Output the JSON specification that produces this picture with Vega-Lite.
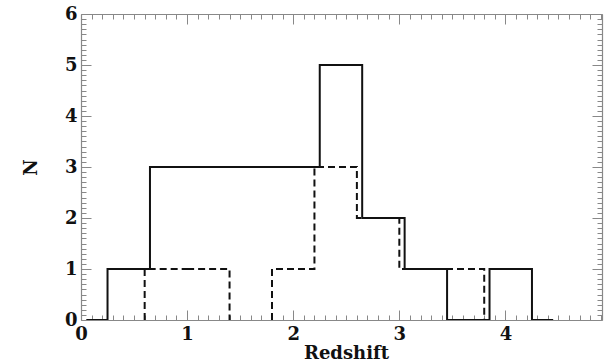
{
  "$schema": "https://vega.github.io/schema/vega-lite/v6.json",
  "width": 521,
  "height": 306,
  "autosize": {"type": "none"},
  "padding": {"left": 81, "top": 14, "right": 5, "bottom": 39},
  "background": "white",
  "config": {
    "view": {"stroke": null},
    "axis": {
      "grid": false,
      "domainColor": "#888888",
      "domainWidth": 1.2,
      "tickColor": "#888888",
      "tickWidth": 1,
      "labelFont": "DejaVu Serif",
      "labelFontWeight": "bold",
      "labelFontSize": 18,
      "labelColor": "#111111",
      "labelFlush": false,
      "labelOverlap": false,
      "titleFont": "DejaVu Serif",
      "titleFontWeight": "bold",
      "titleFontSize": 18,
      "titleColor": "#111111"
    }
  },
  "data": {
    "values": [
      {"z": 0.05, "n": 0, "series": "solid", "seg": "s1"},
      {"z": 0.25, "n": 1, "series": "solid", "seg": "s1"},
      {"z": 0.65, "n": 3, "series": "solid", "seg": "s1"},
      {"z": 1.05, "n": 3, "series": "solid", "seg": "s1"},
      {"z": 1.45, "n": 3, "series": "solid", "seg": "s1"},
      {"z": 1.85, "n": 3, "series": "solid", "seg": "s1"},
      {"z": 2.25, "n": 5, "series": "solid", "seg": "s1"},
      {"z": 2.65, "n": 2, "series": "solid", "seg": "s1"},
      {"z": 3.05, "n": 1, "series": "solid", "seg": "s1"},
      {"z": 3.45, "n": 0, "series": "solid", "seg": "s1"},
      {"z": 3.85, "n": 1, "series": "solid", "seg": "s1"},
      {"z": 4.25, "n": 0, "series": "solid", "seg": "s1"},
      {"z": 4.45, "n": 0, "series": "solid", "seg": "s1"},
      {"z": 0.6, "n": 0, "series": "dashed", "seg": "d1"},
      {"z": 0.6, "n": 1, "series": "dashed", "seg": "d1"},
      {"z": 1.0, "n": 1, "series": "dashed", "seg": "d1"},
      {"z": 1.4, "n": 0, "series": "dashed", "seg": "d1"},
      {"z": 1.8, "n": 0, "series": "dashed", "seg": "d2"},
      {"z": 1.8, "n": 1, "series": "dashed", "seg": "d2"},
      {"z": 2.2, "n": 3, "series": "dashed", "seg": "d2"},
      {"z": 2.6, "n": 2, "series": "dashed", "seg": "d2"},
      {"z": 3.0, "n": 1, "series": "dashed", "seg": "d2"},
      {"z": 3.4, "n": 1, "series": "dashed", "seg": "d2"},
      {"z": 3.8, "n": 0, "series": "dashed", "seg": "d2"}
    ]
  },
  "layer": [
    {
      "transform": [{"filter": "datum.series === 'solid'"}],
      "mark": {"type": "line", "interpolate": "step-after", "color": "#111111", "strokeWidth": 2, "clip": true},
      "encoding": {
        "x": {
          "field": "z", "type": "quantitative",
          "scale": {"domain": [0, 4.91], "nice": false, "zero": false},
          "axis": {
            "orient": "bottom",
            "title": "Redshift",
            "titlePadding": -4,
            "titleX": 265,
            "values": [0,0.1,0.2,0.3,0.4,0.5,0.6,0.7,0.8,0.9,1,1.1,1.2,1.3,1.4,1.5,1.6,1.7,1.8,1.9,2,2.1,2.2,2.3,2.4,2.5,2.6,2.7,2.8,2.9,3,3.1,3.2,3.3,3.4,3.5,3.6,3.7,3.8,3.9,4,4.1,4.2,4.3,4.4,4.5,4.6,4.7,4.8,4.9,5],
            "labelExpr": "datum.value % 1 === 0 ? format(datum.value, 'd') : ''",
            "tickSize": {"condition": {"test": "datum.value % 1 === 0", "value": -10}, "value": -5},
            "labelPadding": 15
          }
        },
        "y": {
          "field": "n", "type": "quantitative",
          "scale": {"domain": [0, 6], "nice": false},
          "axis": {
            "orient": "left",
            "title": "N",
            "titlePadding": 24,
            "values": [0,0.1,0.2,0.3,0.4,0.5,0.6,0.7,0.8,0.9,1,1.1,1.2,1.3,1.4,1.5,1.6,1.7,1.8,1.9,2,2.1,2.2,2.3,2.4,2.5,2.6,2.7,2.8,2.9,3,3.1,3.2,3.3,3.4,3.5,3.6,3.7,3.8,3.9,4,4.1,4.2,4.3,4.4,4.5,4.6,4.7,4.8,4.9,5,5.1,5.2,5.3,5.4,5.5,5.6,5.7,5.8,5.9,6],
            "labelExpr": "datum.value % 1 === 0 ? format(datum.value, 'd') : ''",
            "tickSize": {"condition": {"test": "datum.value % 1 === 0", "value": -10}, "value": -5},
            "labelPadding": 14
          }
        }
      }
    },
    {
      "transform": [{"filter": "datum.series === 'dashed'"}],
      "mark": {"type": "line", "interpolate": "step-after", "color": "#111111", "strokeWidth": 2, "strokeDash": [7, 4], "clip": true},
      "encoding": {
        "detail": {"field": "seg"},
        "x": {
          "field": "z", "type": "quantitative",
          "axis": {
            "orient": "top",
            "title": null,
            "labels": false,
            "values": [0,0.1,0.2,0.3,0.4,0.5,0.6,0.7,0.8,0.9,1,1.1,1.2,1.3,1.4,1.5,1.6,1.7,1.8,1.9,2,2.1,2.2,2.3,2.4,2.5,2.6,2.7,2.8,2.9,3,3.1,3.2,3.3,3.4,3.5,3.6,3.7,3.8,3.9,4,4.1,4.2,4.3,4.4,4.5,4.6,4.7,4.8,4.9],
            "tickSize": {"condition": {"test": "datum.value % 1 === 0", "value": -10}, "value": -5}
          }
        },
        "y": {
          "field": "n", "type": "quantitative",
          "axis": {
            "orient": "right",
            "title": null,
            "labels": false,
            "values": [0,0.1,0.2,0.3,0.4,0.5,0.6,0.7,0.8,0.9,1,1.1,1.2,1.3,1.4,1.5,1.6,1.7,1.8,1.9,2,2.1,2.2,2.3,2.4,2.5,2.6,2.7,2.8,2.9,3,3.1,3.2,3.3,3.4,3.5,3.6,3.7,3.8,3.9,4,4.1,4.2,4.3,4.4,4.5,4.6,4.7,4.8,4.9,5,5.1,5.2,5.3,5.4,5.5,5.6,5.7,5.8,5.9,6],
            "tickSize": {"condition": {"test": "datum.value % 1 === 0", "value": -10}, "value": -5}
          }
        }
      }
    }
  ],
  "resolve": {"axis": {"x": "independent", "y": "independent"}}
}
